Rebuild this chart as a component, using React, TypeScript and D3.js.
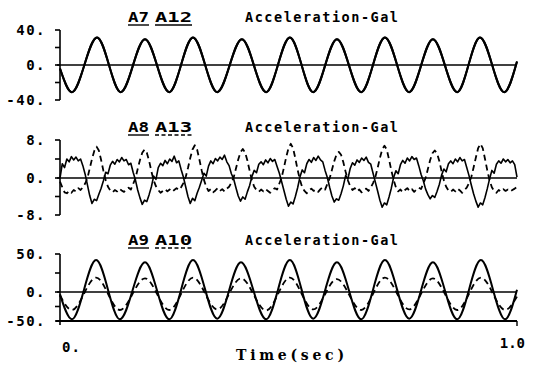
import React from "react";
import * as d3 from "d3";

// ---- Top record: A7 / A12, extremes of the wave (time in sec, acceleration in Gal)
const topTimes = [0, 0.026, 0.081, 0.133, 0.186, 0.239, 0.291, 0.344, 0.398, 0.451, 0.503, 0.554, 0.606, 0.659, 0.711, 0.764, 0.816, 0.869, 0.919, 0.972, 1.0];
const topA7 = [-4, -31, 31.5, -31, 29.5, -31, 31.5, -31, 29.5, -31, 31.5, -31, 29.5, -31, 31.5, -31, 29.5, -31, 31.5, -31, 4];
const topA12 = topA7;
const topTickValues = [-40, -20, 0, 20, 40];
const topLabelValues = [40, 0, -40];
const topLabels = ["40.", "0.", "-40."];

// ---- Middle record: A8 / A13, digitised at a fixed interval
const DT = 0.005;
const midA8 = [
  0, 3.0, 2.2, 4.0, 3.4, 4.5, 3.8, 4.4, 3.6, 4.0, 2.6, 0.8, -1.5, -3.8,
  -5.5, -4.6, -4.9, -3.5, -2.2, -0.6, 1.2, 0.9, 2.7, 3.5, 2.9, 3.9, 3.4, 4.3, 3.6, 3.9, 2.8, 3.1, 1.2, -0.4, -2.6, -4.3,
  -5.7, -4.8, -5.1, -3.6, -1.9, 0.4, -0.3, 2.2, 3.1, 2.6, 3.7, 3.0, 4.0, 3.5, 4.6, 3.2, 3.6, 1.8, 0.2, -1.9, -4.0,
  -5.5, -4.4, -4.9, -3.3, -2.0, -0.5, 1.0, 0.4, 2.5, 3.6, 3.0, 4.1, 3.6, 4.4, 3.9, 4.8, 3.4, 2.6, 0.9, -0.2, -2.1, -3.9,
  -5.0, -4.1, -4.6, -3.0, -1.6, 0.3, 1.6, 1.1, 2.9, 3.4, 2.8, 3.8, 3.2, 4.1, 3.5, 3.9, 2.4, 1.0, -0.8, -2.7, -4.6,
  -6.1, -5.2, -5.6, -4.0, -2.1, 0.2, 1.7, 1.1, 3.0, 3.9, 3.3, 4.3, 3.7, 4.6, 3.8, 3.4, 1.6, 0.1, -2.0, -3.9,
  -5.2, -4.5, -4.8, -3.4, -1.7, 0.5, -0.2, 2.0, 3.2, 2.7, 3.8, 3.3, 4.2, 3.7, 4.4, 3.3, 2.9, 1.0, -0.9, -2.8, -4.8,
  -6.3, -5.4, -5.8, -4.1, -2.2, 0.1, 1.5, 0.9, 2.8, 3.7, 3.1, 4.2, 3.6, 4.5, 3.9, 4.2, 2.6, 0.8, -0.6, -2.4, -3.6,
  -4.5, -3.8, -4.2, -2.9, -1.4, 0.6, 1.9, 1.3, 3.0, 3.6, 3.0, 4.0, 3.4, 4.3, 3.6, 3.9, 2.2, 0.5, -1.5, -3.4, -5.0,
  -6.3, -5.4, -5.8, -4.2, -2.3, -0.2, 1.6, 1.0, 2.9, 3.6, 3.1, 4.0, 3.4, 3.9, 3.2, 3.6, 2.8, 0.2,
];
const midA13 = [
  -0.8, -2.0, -3.1, -3.3, -2.8, -3.2, -2.6, -2.9, -2.2, -2.6, -2.0,
  -1.2, 0.0, 2.0, 4.0, 5.7, 6.6, 5.8, 3.8, 1.5, -0.5, -1.9,
  -2.7, -3.1, -2.6, -2.9, -2.3, -2.7, -3.0, -2.4, -2.1, -2.5,
  -1.3, -0.1, 1.9, 3.8, 5.3, 6.0, 5.3, 3.6, 1.4, -0.5, -1.8,
  -2.6, -3.2, -2.8, -2.4, -2.9, -2.5, -3.0, -2.6, -2.2, -2.6, -2.0,
  -1.1, 0.2, 2.1, 4.2, 6.0, 6.9, 6.0, 3.9, 1.6, -0.4, -1.9,
  -2.8, -2.4, -3.1, -2.7, -2.2, -2.8, -2.4, -2.9, -2.3, -1.9,
  -1.0, 0.1, 2.0, 3.9, 5.4, 6.1, 5.4, 3.7, 1.5, -0.5, -1.9,
  -2.6, -3.0, -2.5, -2.9, -2.4, -2.8, -3.2, -2.6, -2.2, -2.5,
  -1.2, 0.1, 2.2, 4.4, 6.3, 7.2, 6.3, 4.1, 1.7, -0.4, -2.0,
  -2.8, -3.3, -2.7, -2.3, -2.8, -2.5, -3.0, -2.4, -2.0, -2.5,
  -1.3, -0.1, 1.7, 3.5, 4.9, 5.5, 4.9, 3.3, 1.3, -0.5, -1.8,
  -2.6, -2.2, -2.9, -2.5, -3.1, -2.6, -2.3, -2.8, -2.1,
  -1.1, 0.2, 2.1, 4.2, 6.0, 6.8, 6.0, 3.9, 1.6, -0.4, -2.0,
  -2.9, -2.5, -3.1, -2.6, -2.2, -2.8, -2.4, -3.0, -2.5, -2.1, -2.4,
  -1.2, 0.0, 1.9, 3.8, 5.2, 5.8, 5.2, 3.6, 1.4, -0.5, -1.9,
  -2.7, -3.0, -2.5, -2.9, -2.3, -2.7, -3.2, -2.6, -2.1,
  -1.1, 0.2, 2.2, 4.3, 6.3, 7.2, 6.3, 4.0, 1.6, -0.5, -2.0,
  -2.8, -3.2, -2.6, -2.9, -2.4, -2.8, -2.5, -2.9, -2.6, -2.3, -1.9,
];
const midTickValues = [-8, -4, 0, 4, 8];
const midLabelValues = [8, 0, -8];
const midLabels = ["8.", "0.", "-8."];

// ---- Bottom record: A9 / A10, extremes of the wave
const botTimes = [0, 0.026, 0.079, 0.131, 0.186, 0.239, 0.291, 0.344, 0.396, 0.451, 0.503, 0.554, 0.606, 0.659, 0.711, 0.764, 0.816, 0.869, 0.921, 0.974, 1.0];
const botA9 = [-4, -47, 42, -47, 39, -47, 42, -46, 39, -47, 42, -46, 39, -47, 42, -46, 39, -47, 42, -47, 3];
const botA10 = [-6, -31, 19, -31, 18, -31, 19, -30, 18, -32, 19, -30, 17, -31, 19, -30, 18, -31, 19, -31, -8];
const botTickValues = [-50, -25, 0, 25, 50];
const botLabelValues = [50, 0, -50];
const botLabels = ["50.", "0.", "-50."];

const timeLabels = ["0.", "1.0"];
const titleText = "Acceleration-Gal";

const W = 535;
const H = 365;
const X0 = 60;
const X1 = 517;
const MONO = "'DejaVu Sans Mono', monospace";

const x = d3.scaleLinear().domain([0, 1]).range([X0, X1]);

type Series = { t: number[]; v: number[]; dashed: boolean; curve: d3.CurveFactory; width: number };
type Panel = {
  y: d3.ScaleLinear<number, number>;
  ticks: number[];
  labelValues: number[];
  labels: string[];
  names: [string, string];
  nameDashed: [boolean, boolean];
  titleY: number;
  series: Series[];
  xAxis?: boolean;
};

const midTimes = midA8.map((_, i) => i * DT);
const midTimes13 = midA13.map((_, i) => i * DT);

const panels: Panel[] = [
  {
    y: d3.scaleLinear().domain([-40, 0, 40]).range([100, 65, 30]),
    ticks: topTickValues,
    labelValues: topLabelValues,
    labels: topLabels,
    names: ["A7", "A12"],
    nameDashed: [false, false],
    titleY: 22,
    series: [
      { t: topTimes, v: topA12, dashed: false, curve: d3.curveMonotoneX, width: 2 },
      { t: topTimes, v: topA7, dashed: false, curve: d3.curveMonotoneX, width: 2 },
    ],
  },
  {
    y: d3.scaleLinear().domain([-8, 0, 8]).range([215, 178, 140]),
    ticks: midTickValues,
    labelValues: midLabelValues,
    labels: midLabels,
    names: ["A8", "A13"],
    nameDashed: [false, true],
    titleY: 132,
    series: [
      { t: midTimes13, v: midA13, dashed: true, curve: d3.curveLinear, width: 1.8 },
      { t: midTimes, v: midA8, dashed: false, curve: d3.curveLinear, width: 1.6 },
    ],
  },
  {
    y: d3.scaleLinear().domain([-50, 0, 50]).range([321, 292, 254]),
    ticks: botTickValues,
    labelValues: botLabelValues,
    labels: botLabels,
    names: ["A9", "A10"],
    nameDashed: [false, true],
    titleY: 245,
    series: [
      { t: botTimes, v: botA10, dashed: true, curve: d3.curveMonotoneX, width: 1.8 },
      { t: botTimes, v: botA9, dashed: false, curve: d3.curveMonotoneX, width: 2 },
    ],
    xAxis: true,
  },
];

function PanelView({ p }: { p: Panel }) {
  const y = p.y;
  const dom = y.domain();
  const yMin = dom[0];
  const yMax = dom[dom.length - 1];
  const nameXs = [128, 155];
  const nameWs = [21, 37];
  return (
    <g>
      {/* title row */}
      {p.names.map((n, i) => (
        <g key={n}>
          <text x={nameXs[i]} y={p.titleY} fontFamily={MONO} fontWeight="bold" fontSize={14}
            textLength={nameWs[i]} lengthAdjust="spacingAndGlyphs">{n}</text>
          <line x1={nameXs[i]} x2={nameXs[i] + nameWs[i]} y1={p.titleY + 3} y2={p.titleY + 3}
            stroke="#000" strokeWidth={1.4} strokeDasharray={p.nameDashed[i] ? "4,2.5" : undefined} />
        </g>
      ))}
      <text x={245} y={p.titleY} fontFamily={MONO} fontWeight="bold" fontSize={13.5}
        textLength={153} lengthAdjust="spacing">{titleText}</text>

      {/* y axis */}
      <line x1={X0} x2={X0} y1={y(yMax)} y2={y(yMin) + (p.xAxis ? 4 : 0)} stroke="#000" strokeWidth={1.6} />
      {p.ticks.map((t) => (
        <line key={t} x1={X0 - 5} x2={X0} y1={y(t)} y2={y(t)} stroke="#000" strokeWidth={1.6} />
      ))}
      {p.labelValues.map((v, i) => (
        <text key={v} x={46} y={y(v)} dy="0.36em" textAnchor="end" fontFamily={MONO}
          fontWeight="bold" fontSize={14} letterSpacing={1.5}>{p.labels[i]}</text>
      ))}

      {/* zero line */}
      <line x1={X0 - 3} x2={X1} y1={y(0)} y2={y(0)} stroke="#000" strokeWidth={1.6} />

      {/* records */}
      {p.series.map((s, i) => {
        const gen = d3.line<number>().x((_, k) => x(s.t[k])).y((v) => y(v)).curve(s.curve);
        return (
          <path key={i} d={gen(s.v) ?? ""} fill="none" stroke="#000" strokeWidth={s.width}
            strokeLinejoin="round" strokeDasharray={s.dashed ? "6,4" : undefined} />
        );
      })}

      {/* time axis */}
      {p.xAxis && (
        <g>
          <line x1={X0 - 4} x2={X1} y1={y(yMin)} y2={y(yMin)} stroke="#000" strokeWidth={1.8} />
          <line x1={X1} x2={X1} y1={y(yMin)} y2={y(yMin) + 5} stroke="#000" strokeWidth={1.4} />
          <text x={x(0) + 2} y={352} fontFamily={MONO} fontWeight="bold" fontSize={14} letterSpacing={1}>{timeLabels[0]}</text>
          <text x={x(1) + 8} y={348} textAnchor="end" fontFamily={MONO} fontWeight="bold" fontSize={14}>{timeLabels[1]}</text>
          <text x={236} y={360} fontFamily="'DejaVu Serif', serif" fontWeight="bold" fontSize={14}
            textLength={108} lengthAdjust="spacing">Time(sec)</text>
        </g>
      )}
    </g>
  );
}

export default function App() {
  return (
    <div style={{ position: "absolute", left: 0, top: 0, width: W, height: H, background: "#fff" }}>
      <svg width={W} height={H} viewBox={`0 0 ${W} ${H}`}>
        <rect width={W} height={H} fill="#fff" />
        {panels.map((p, i) => (
          <PanelView key={i} p={p} />
        ))}
      </svg>
    </div>
  );
}
